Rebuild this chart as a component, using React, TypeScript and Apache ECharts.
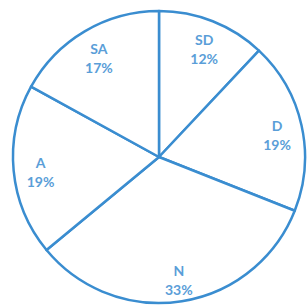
import React, { useEffect, useRef } from "react";
import * as echarts from "echarts";

const categories = ["SD", "D", "N", "A", "SA"];
const values = [12, 19, 33, 19, 17];

export default function App() {
  const ref = useRef<HTMLDivElement>(null);
  useEffect(() => {
    if (!ref.current) return;
    const chart = echarts.init(ref.current, null, { renderer: "svg" });
    const data = categories.map((c, i) => ({ name: c, value: values[i] }));
    const total = values.reduce((a, b) => a + b, 0);
    const cx = 159;
    const cy = 157;
    const labelCy = 161;
    const labelR = 120;
    let acc = 0;
    const labels = values.map((v, i) => {
      const a = ((acc + v / 2) / total) * Math.PI * 2;
      acc += v;
      return {
        type: "text",
        z: 100,
        zlevel: 0,
        x: cx + 1 + labelR * Math.sin(a),
        y: labelCy - labelR * Math.cos(a),
        silent: true,
        style: {
          text: categories[i] + "\n" + v + "%",
          fill: "#5A9ED8",
          fontFamily: "Lato",
          fontWeight: "bold",
          fontSize: 14,
          lineHeight: 19,
          align: "center",
          verticalAlign: "middle",
        },
      };
    });
    chart.setOption({
      animation: false,
      backgroundColor: "#ffffff",
      series: [
        {
          type: "pie",
          z: 1,
          center: [cx, cy],
          radius: [0, 146],
          startAngle: 90,
          clockwise: true,
          silent: true,
          label: { show: false },
          labelLine: { show: false },
          itemStyle: { color: "#ffffff", borderColor: "#3A8DD0", borderWidth: 2.5 },
          data,
        },
      ],
      graphic: { elements: labels },
    });
    return () => chart.dispose();
  }, []);
  return (
    <div
      ref={ref}
      style={{ position: "fixed", left: 0, top: 0, width: 308, height: 305 }}
    />
  );
}
